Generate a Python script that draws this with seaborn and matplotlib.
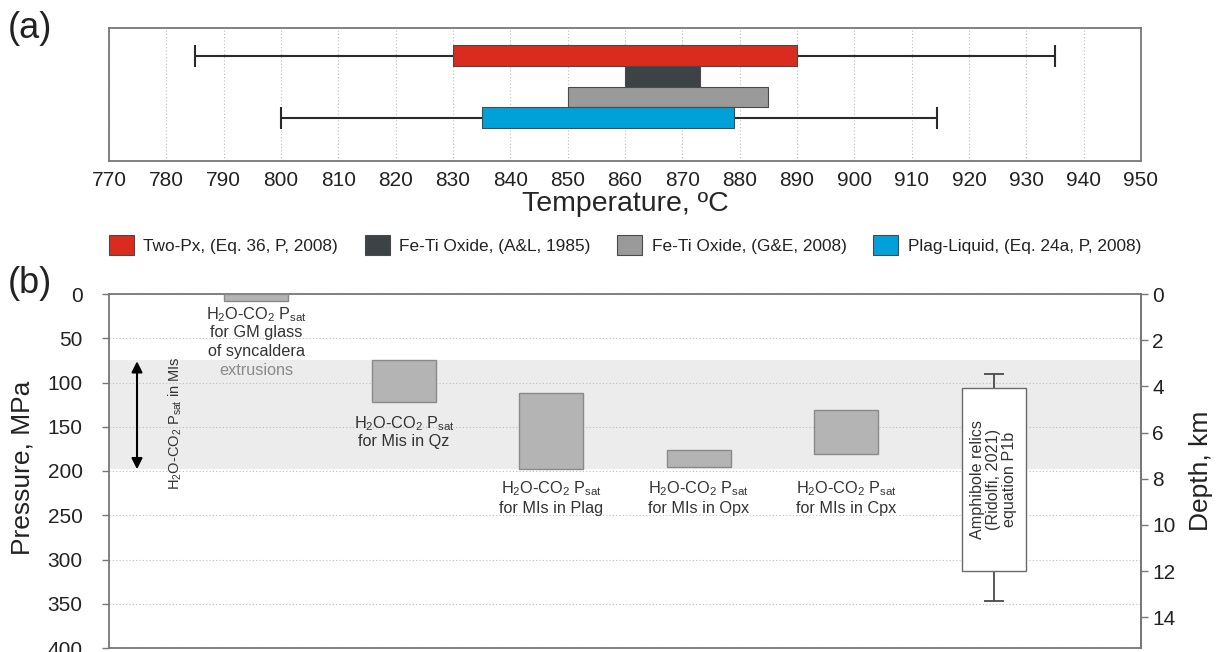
import numpy as np
import pandas as pd
import matplotlib
matplotlib.use("Agg")
import matplotlib.pyplot as plt
from matplotlib.patches import Patch
import seaborn as sns

# ---- (a) temperature estimates, degC ----
methods = ["Two-Px, (Eq. 36, P, 2008)", "Fe-Ti Oxide, (A&L, 1985)",
           "Fe-Ti Oxide, (G&E, 2008)", "Plag-Liquid, (Eq. 24a, P, 2008)"]
t_low = [830, 860, 850, 835]
t_high = [890, 873, 885, 879]
t_err_low = [785, None, None, 800]
t_err_high = [935, None, None, 914.5]
method_colors = ["#d92b1e", "#3b4347", "#9a9a9a", "#00a1d8"]
t_ticks = list(range(770, 951, 10))

# ---- (b) pressure estimates, MPa ----
p_groups = ["GM glass", "MIs in Qz", "MIs in Plag", "MIs in Opx", "MIs in Cpx", "Amphibole"]
p_low = [0, 75, 112, 176, 131, 106]
p_high = [8, 122, 198, 195, 181, 313]
amph_whisker = [90, 347]
mi_band = [75, 198]
p_ticks = list(range(0, 401, 50))
depth_ticks = list(range(0, 15, 2))
MPA_PER_KM = 26.1

sns.set_theme(style="white")
base = "Liberation Sans"
plt.rcParams["font.family"] = [base, "DejaVu Sans"]
plt.rcParams["mathtext.fontset"] = "custom"
plt.rcParams["mathtext.rm"] = base
plt.rcParams["mathtext.it"] = base
plt.rcParams["mathtext.bf"] = base
plt.rcParams["text.color"] = "#222222"

W, H = 1217, 652
fig = plt.figure(figsize=(W / 100, H / 100), dpi=100)
SPINE = "#777777"
GRID = dict(ls=(0, (1, 2)), color="#bdbdbd", lw=0.8)
TICK = 15
AXLBL = 19

# ================= (a) =================
ax_t = fig.add_axes([109 / W, 1 - 161 / H, 1032 / W, 133 / H])
df_t = pd.DataFrame({"method": methods, "span": np.subtract(t_high, t_low)})
sns.barplot(data=df_t, x="span", y="method", orient="h", left=t_low, width=1.0,
            color="#9a9a9a", errorbar=None, ax=ax_t, zorder=3, linewidth=0.8,
            edgecolor="#4a4a4a")
for patch, c in zip(ax_t.containers[0], method_colors):
    patch.set_facecolor(c)

for i, (lo, hi) in enumerate(zip(t_err_low, t_err_high)):
    if lo is None:
        continue
    ax_t.errorbar(x=(lo + hi) / 2, y=i, xerr=(hi - lo) / 2, fmt="none",
                  ecolor="#2a2a2a", elinewidth=1.5, capsize=8, capthick=1.5, zorder=2)

ax_t.set_xlim(770, 950)
ax_t.set_ylim(5.08, -1.33)
ax_t.set_xticks(t_ticks)
ax_t.set_xticklabels([str(t) for t in t_ticks])
ax_t.set_yticks([])
ax_t.set_ylabel("")
ax_t.tick_params(axis="x", length=0, pad=7, labelsize=TICK, labelcolor="#222222")
ax_t.set_axisbelow(True)
ax_t.xaxis.grid(True, **GRID)
ax_t.set_xlabel("Temperature, ºC", fontsize=20.5)
ax_t.xaxis.set_label_coords(0.5, -0.225)
for s in ax_t.spines.values():
    s.set_color(SPINE)
    s.set_linewidth(1.3)

handles = [Patch(facecolor=c, edgecolor="#4a4a4a", linewidth=0.8) for c in method_colors]
fig.legend(handles, methods, loc="center", ncol=4, frameon=False, fontsize=12.4,
           bbox_to_anchor=(109 / W, 1 - 262 / H, 1032 / W, 34 / H), mode="expand",
           borderaxespad=0, borderpad=0, handlelength=1.45, handleheight=1.45,
           handletextpad=0.55, columnspacing=1.0)

fig.text(8 / W, 1 - 29 / H, "(a)", fontsize=26, va="center", ha="left")
fig.text(8 / W, 1 - 283 / H, "(b)", fontsize=26, va="center", ha="left")

# ================= (b) =================
ax_b = fig.add_axes([109 / W, 1 - 648 / H, 1032 / W, 354 / H])

df_b = pd.DataFrame({"group": p_groups, "span": np.subtract(p_high, p_low)})
sns.barplot(data=df_b, x="group", y="span", bottom=p_low, width=0.435,
            color="#b4b4b4", errorbar=None, ax=ax_b, zorder=3, linewidth=1.0,
            edgecolor="#8a8a8a")
for name, patch in zip(p_groups, ax_b.containers[0]):
    if name == "Amphibole":
        patch.set_facecolor("white")
        patch.set_edgecolor("#6a6a6a")
    else:
        patch.set_facecolor("#b4b4b4")

ax_b.axhspan(mi_band[0], mi_band[1], color="#ececec", zorder=0, lw=0)

amph_x = p_groups.index("Amphibole")
amph_mid = (p_low[amph_x] + p_high[amph_x]) / 2
ax_b.errorbar(x=amph_x, y=amph_mid,
              yerr=[[amph_mid - amph_whisker[0]], [amph_whisker[1] - amph_mid]],
              fmt="none", ecolor="#4a4a4a", elinewidth=1.3, capsize=7, capthick=1.3, zorder=2)

ax_b.set_xlim(-1, 6)
ax_b.set_ylim(400, 0)
ax_b.set_xticks([])
ax_b.set_xlabel("")
ax_b.set_yticks(p_ticks)
ax_b.set_yticklabels([str(p) for p in p_ticks])
ax_b.tick_params(axis="y", left=True, length=5, width=1.0, color=SPINE, pad=14,
                 labelsize=TICK, labelcolor="#222222")
ax_b.set_axisbelow(True)
ax_b.yaxis.grid(True, **GRID)
ax_b.set_ylabel("")
for s in ax_b.spines.values():
    s.set_color(SPINE)
    s.set_linewidth(1.3)

ax_d = ax_b.secondary_yaxis("right", functions=(lambda p: p / MPA_PER_KM,
                                                 lambda d: d * MPA_PER_KM))
ax_d.set_yticks(depth_ticks)
ax_d.set_yticklabels([str(d) for d in depth_ticks])
ax_d.tick_params(axis="y", length=5, width=1.0, color=SPINE, pad=3,
                 labelsize=TICK, labelcolor="#222222")
ax_d.spines["right"].set_color(SPINE)
ax_d.spines["right"].set_linewidth(1.3)

# axis titles of panel (b)
fig.text(23 / W, 1 - 468 / H, "Pressure, MPa", rotation=90, ha="center", va="center",
         fontsize=AXLBL)
fig.text(1201 / W, 1 - 471 / H, "Depth, km", rotation=90, ha="center", va="center",
         fontsize=AXLBL)

# annotations
SAT = r"H$_2$O-CO$_2$ P$_{\mathrm{sat}}$"
LBL = 11.7
notes = [
    (0, 23, SAT, "#333333"), (0, 44, "for GM glass", "#333333"),
    (0, 65, "of syncaldera", "#333333"), (0, 86, "extrusions", "#8a8a8a"),
    (1, 147, SAT, "#333333"), (1, 167, "for Mis in Qz", "#333333"),
    (2, 220, SAT, "#333333"), (2, 242, "for MIs in Plag", "#333333"),
    (3, 220, SAT, "#333333"), (3, 242, "for MIs in Opx", "#333333"),
    (4, 220, SAT, "#333333"), (4, 242, "for MIs in Cpx", "#333333"),
]
for x, y, s, c in notes:
    ax_b.text(x, y, s, ha="center", va="center", fontsize=LBL, color=c, zorder=4)

ax_b.text(amph_x, amph_mid, "Amphibole relics\n(Ridolfi, 2021)\nequation P1b",
          rotation=90, ha="center", va="center", fontsize=11.6, linespacing=1.05,
          color="#333333", zorder=4)

ax_b.annotate("", xy=(-0.81, mi_band[0] + 1), xytext=(-0.81, mi_band[1]),
              arrowprops=dict(arrowstyle="<|-|>", color="black", lw=1.5,
                              mutation_scale=16, shrinkA=0, shrinkB=0), zorder=4)
ax_b.text(-0.552, 146, SAT + " in MIs", rotation=90, ha="center", va="center",
          fontsize=10.5, color="#333333", zorder=4)

fig.savefig("out.png", dpi=100)
